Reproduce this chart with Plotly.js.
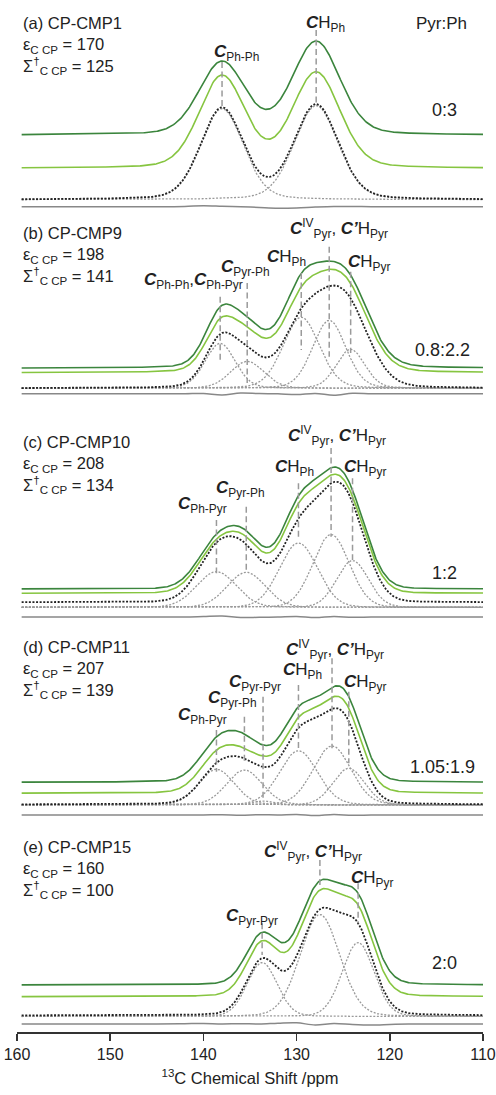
<!DOCTYPE html>
<html><head><meta charset="utf-8">
<script src="https://cdn.plot.ly/plotly-3.0.1.min.js"></script>
<style>html,body{margin:0;padding:0;background:#fff}#chart{width:496px;height:1095px}</style>
</head><body><div id="chart"></div>
<script>
// ================= DATA =================
const panelNames = ['(a) CP-CMP1', '(b) CP-CMP9', '(c) CP-CMP10', '(d) CP-CMP11', '(e) CP-CMP15'];
const epsilonCCP = [170, 198, 208, 207, 160];
const sigmaCCP = [125, 141, 134, 139, 100];
const pyrPhRatio = ['0:3', '0.8:2.2', '1:2', '1.05:1.9', '2:0'];
const tickValues = [160, 150, 140, 130, 120, 110];

// peak centres (ppm), component FWHM (ppm), component heights,
// spectrum FWHM and heights of the three spectra at each centre (arbitrary units)
const centersA = [138.0, 127.9];
const fwhmA = [5.4, 5.6];
const compA = [91, 94];
const fwhmCurveA = [5.8, 6.0];
const sumA = [92.4, 95.7];
const lightA = [93.3, 96.6];
const darkA = [74, 94];

const centersB = [138.2, 135.3, 129.5, 126.5, 124.2];
const fwhmB = [3.8, 4.2, 4.6, 4.2, 3.6];
const compB = [45, 27, 71, 68, 39];
const fwhmCurveB = [3.9, 4.3, 5.0, 5.0, 5.4];
const sumB = [54.3, 41.7, 80, 102.3, 90];
const lightB = [54.4, 46, 86, 103.4, 89.4];
const darkB = [61.6, 51.6, 95, 107.3, 93.3];

const centersC = [138.6, 135.4, 129.8, 126.3, 124.0];
const fwhmC = [5.0, 4.8, 4.8, 4.6, 4.0];
const compC = [35.7, 35, 64.4, 72.7, 46.7];
const fwhmCurveC = [4.9, 4.6, 4.6, 4.8, 4.6];
const sumC = [60, 58, 84, 119, 100];
const lightC = [54.3, 56.6, 90, 118.3, 97];
const darkC = [55, 58.3, 93.3, 121.3, 99];

const centersD = [138.6, 135.6, 133.6, 129.8, 126.2, 124.4];
const fwhmD = [4.5, 4.5, 2.5, 4.8, 4.8, 4.0];
const compD = [35.7, 35, 4, 54.3, 59, 36.7];
const fwhmCurveD = [4.5, 4.5, 2.5, 4.8, 4.8, 4.0];
const sumD = [41.7, 46, 37.7, 76.7, 95.7, 83.3];
const lightD = [43.3, 45, 37.3, 76, 96, 85];
const darkD = [45.6, 48.3, 37.3, 75.6, 95, 85.6];

const centersE = [133.7, 127.5, 123.4];
const fwhmE = [3.8, 5.0, 4.0];
const compE = [54, 102, 74];
const fwhmCurveE = [4.0, 5.25, 4.2];
const sumE = [57.4, 106.4, 92.4];
const lightE = [56, 106.7, 91.7];
const darkE = [52.7, 104.3, 91.7];

// Lorentzian fraction per panel; width scale of (dark, light, fit sum) spectra
const etaPanels = [0.2, 0.15, 0.05, 0.1, 0.1];
const broadA = [1, 1, 0.93];
const broadB = [1, 1, 1];
const broadC = [1, 1, 1];
const broadD = [1, 1, 1];
const broadE = [1, 1, 1];

// fit residuals sampled on a ppm grid
const residPpm = [159.5, 145, 142, 140, 138, 136, 134, 132, 130, 128, 126, 124, 122, 120, 118, 110];
const residA = [0, 0, 0.3, 1, 0.5, 0, -0.8, -1.5, -1.2, -0.3, 0.3, 0.2, 0, 0, 0, 0];
const residB = [0, 0, 0, 0.3, -1.2, 0.8, 0.2, 0, -0.8, 0.4, -1.5, 0.5, 0, 0, 0, 0];
const residC = [0, 0, 0, 0.5, 1, -0.5, -0.3, 0, 0.5, -0.5, 0.5, -0.3, 0, 0, 0, 0];
const residD = [0, 0, 0, 0, 0.3, -0.3, 0.3, 0, 0.5, -0.5, 0.5, -0.3, 0, 0, 0, 0];
const residE = [0, 0, 0.3, 0.5, 0, 0.3, 0, 0.8, 1.2, -1, 0.5, -0.5, -1, -0.5, 0, 0];

// peak assignment labels
const bC = '<b><i>C</i></b>';
const labIV = bC + '<sup>IV</sup><sub>Pyr</sub>, <b><i>C’</i></b>H<sub>Pyr</sub>';
const labelsA = [bC + '<sub>Ph-Ph</sub>', bC + 'H<sub>Ph</sub>'];
const labelsB = [bC + '<sub>Ph-Ph</sub>,' + bC + '<sub>Ph-Pyr</sub>', bC + '<sub>Pyr-Ph</sub>', bC + 'H<sub>Ph</sub>', labIV, bC + 'H<sub>Pyr</sub>'];
const labelsC = [bC + '<sub>Ph-Pyr</sub>', bC + '<sub>Pyr-Ph</sub>', bC + 'H<sub>Ph</sub>', labIV, bC + 'H<sub>Pyr</sub>'];
const labelsD = [bC + '<sub>Ph-Pyr</sub>', bC + '<sub>Pyr-Ph</sub>', bC + '<sub>Pyr-Pyr</sub>', bC + 'H<sub>Ph</sub>', labIV, bC + 'H<sub>Pyr</sub>'];
const labelsE = [bC + '<sub>Pyr-Pyr</sub>', labIV, bC + 'H<sub>Pyr</sub>'];

// ================= LAYOUT POSITIONS (pixels in the 496x1095 page) =================
const PLOT_H = 1032, L_MARGIN = 17, R_MARGIN = 13;
const PX_PER_PPM = (496 - L_MARGIN - R_MARGIN) / 50;
const ppmAt = px => 160 - (px - L_MARGIN) / PX_PER_PPM;
const yAt = py => PLOT_H - py;

// baselines (page px): dark, light, sum, components, residual
const basesPx = [
  [135, 168.3, 199.7, 199.7, 206.7],
  [368.3, 372.7, 388.3, 388.3, 393.8],
  [589, 593.3, 602.3, 607.3, 617],
  [782.3, 793.3, 804.5, 805, 815],
  [985, 996.7, 1015.5, 1016.5, 1024]
];
const titleTopPx = [12, 222, 431, 636, 836];
const ratioPosPx = [[444, 110], [442, 350], [444, 573.3], [442.5, 766.7], [444, 963.3]];
const labelPosPx = [
  [[236, 53], [325, 24]],
  [[193, 281], [245, 268], [286.5, 258], [338.5, 228], [369, 263]],
  [[202.5, 505], [240, 489], [294, 468], [336.5, 435], [365, 468]],
  [[202.5, 716], [232, 699], [255, 683], [302.5, 671], [335, 649], [365, 683]],
  [[251.5, 917], [312.5, 851], [372, 879]]
];
const dashPx = [
  [[62, 107], [30, 104]],
  [[296.7, 363.3], [283, 383], [273, 350], [246.7, 356.7], [271.7, 353]],
  [[520, 573.3], [506.7, 573.3], [483.3, 540], [448, 536.7], [478.3, 560]],
  [[730, 771.7], [716.7, 763.3], [696.7, 800], [685, 750], [658.3, 748.3], [691.7, 763.3]],
  [[923.3, 955], [860, 888.3], [883.3, 923.3]]
];

// ================= COMPUTATION =================
const panels = [
  {c: centersA, w: fwhmA, wc: fwhmCurveA, comp: compA, sum: sumA, light: lightA, dark: darkA, br: broadA, res: residA, lab: labelsA},
  {c: centersB, w: fwhmB, wc: fwhmCurveB, comp: compB, sum: sumB, light: lightB, dark: darkB, br: broadB, res: residB, lab: labelsB},
  {c: centersC, w: fwhmC, wc: fwhmCurveC, comp: compC, sum: sumC, light: lightC, dark: darkC, br: broadC, res: residC, lab: labelsC},
  {c: centersD, w: fwhmD, wc: fwhmCurveD, comp: compD, sum: sumD, light: lightD, dark: darkD, br: broadD, res: residD, lab: labelsD},
  {c: centersE, w: fwhmE, wc: fwhmCurveE, comp: compE, sum: sumE, light: lightE, dark: darkE, br: broadE, res: residE, lab: labelsE}
];

function pv(x, c, w, eta) {
  const t = (x - c) / w;
  return (1 - eta) * Math.exp(-4 * Math.LN2 * t * t) + eta / (1 + 4 * t * t);
}
// amplitudes so that the summed lineshape passes through the read heights at the centres
function solveAmps(c, w, eta, target) {
  const n = c.length;
  const M = c.map((ci, i) => c.map((cj, j) => pv(ci, cj, w[j], eta)).concat([target[i]]));
  for (let k = 0; k < n; k++) {
    let p = k;
    for (let r = k + 1; r < n; r++) if (Math.abs(M[r][k]) > Math.abs(M[p][k])) p = r;
    [M[k], M[p]] = [M[p], M[k]];
    for (let r = 0; r < n; r++) {
      if (r === k) continue;
      const f = M[r][k] / M[k][k];
      for (let q = k; q <= n; q++) M[r][q] -= f * M[k][q];
    }
  }
  return M.map((row, i) => row[n] / row[i]);
}

const xs = [];
for (let i = 0; i <= 495; i++) xs.push(+(159.5 - i * 0.1).toFixed(2));

const FONT = 'Liberation Sans, Arial, Helvetica, sans-serif';
const DARK = '#3b853d', LIGHT = '#86c540', GREY = '#999999', BLACK = '#222222';

const traces = [], shapes = [], annotations = [];

panels.forEach((p, k) => {
  const eta = etaPanels[k];
  const [bD, bL, bS, bC0, bR] = basesPx[k];
  // components
  p.c.forEach((c, j) => {
    traces.push({x: xs, y: xs.map(x => yAt(bC0) + p.comp[j] * pv(x, c, p.w[j], eta)),
      mode: 'lines', line: {color: GREY, width: 1.3, dash: '2px,1.6px'}, hoverinfo: 'skip', showlegend: false});
  });
  // spectra
  const spec = [[p.sum, bS, p.br[2], BLACK, 1.8, '2px,1.6px'], [p.light, bL, p.br[1], LIGHT, 1.6, 'solid'], [p.dark, bD, p.br[0], DARK, 1.6, 'solid']];
  spec.forEach(([tgt, base, br, col, lw, dash]) => {
    const ww = p.wc.map(v => v * br);
    const amps = solveAmps(p.c, ww, eta, tgt);
    traces.push({x: xs, y: xs.map(x => yAt(base) + p.c.reduce((s, c, j) => s + amps[j] * pv(x, c, ww[j], eta), 0)),
      mode: 'lines', line: {color: col, width: lw, dash: dash}, hoverinfo: 'skip', showlegend: false});
  });
  // residual
  traces.push({x: residPpm, y: p.res.map(v => yAt(bR) + v), mode: 'lines',
    line: {color: '#888888', width: 1.5, shape: 'spline', smoothing: 1}, hoverinfo: 'skip', showlegend: false});
  // dashed assignment lines
  p.c.forEach((c, j) => {
    shapes.push({type: 'line', xref: 'x', yref: 'y', x0: c, x1: c, y0: yAt(dashPx[k][j][0]), y1: yAt(dashPx[k][j][1]),
      line: {color: '#9a9a9a', width: 1.5, dash: '6px,3.5px'}, layer: 'above'});
  });
  // peak labels
  p.lab.forEach((t, j) => {
    annotations.push({text: t, x: ppmAt(labelPosPx[k][j][0]), y: yAt(labelPosPx[k][j][1]), xref: 'x', yref: 'y',
      showarrow: false, xanchor: 'center', yanchor: 'middle', font: {family: FONT, size: 17, color: BLACK}});
  });
  // panel title block
  const tl = panelNames[k] + '<br>ε<sub>C CP</sub> = ' + epsilonCCP[k] + '<br>Σ<sup>†</sup><sub>C CP</sub> = ' + sigmaCCP[k];
  annotations.push({text: tl, x: ppmAt(21), y: yAt(titleTopPx[k]), xref: 'x', yref: 'y', showarrow: false,
    xanchor: 'left', yanchor: 'top', align: 'left', font: {family: FONT, size: 16.5, color: BLACK}});
  annotations.push({text: pyrPhRatio[k], x: ppmAt(ratioPosPx[k][0]), y: yAt(ratioPosPx[k][1]), xref: 'x', yref: 'y',
    showarrow: false, xanchor: 'center', yanchor: 'middle', font: {family: FONT, size: 18, color: BLACK}});
});
annotations.push({text: 'Pyr:Ph', x: ppmAt(469), y: yAt(23), xref: 'x', yref: 'y', showarrow: false,
  xanchor: 'right', yanchor: 'middle', font: {family: FONT, size: 17, color: BLACK}});

const layout = {
  width: 496, height: 1095,
  margin: {l: L_MARGIN, r: R_MARGIN, t: 0, b: 1095 - PLOT_H},
  paper_bgcolor: '#ffffff', plot_bgcolor: '#ffffff',
  showlegend: false,
  xaxis: {range: [160, 110], tickvals: tickValues, ticktext: tickValues.map(String),
    ticks: 'outside', ticklen: 7, tickwidth: 1.5, tickcolor: '#333', showline: true, linecolor: '#333', linewidth: 1.5,
    showgrid: false, zeroline: false, tickfont: {family: FONT, size: 16, color: BLACK},
    title: {text: '<sup>13</sup>C Chemical Shift /ppm', font: {family: FONT, size: 16.5, color: BLACK}, standoff: 10}},
  yaxis: {range: [0, PLOT_H], visible: false, fixedrange: true},
  shapes: shapes, annotations: annotations
};
Plotly.newPlot('chart', traces, layout, {staticPlot: true, displayModeBar: false});
</script>
</body></html>
